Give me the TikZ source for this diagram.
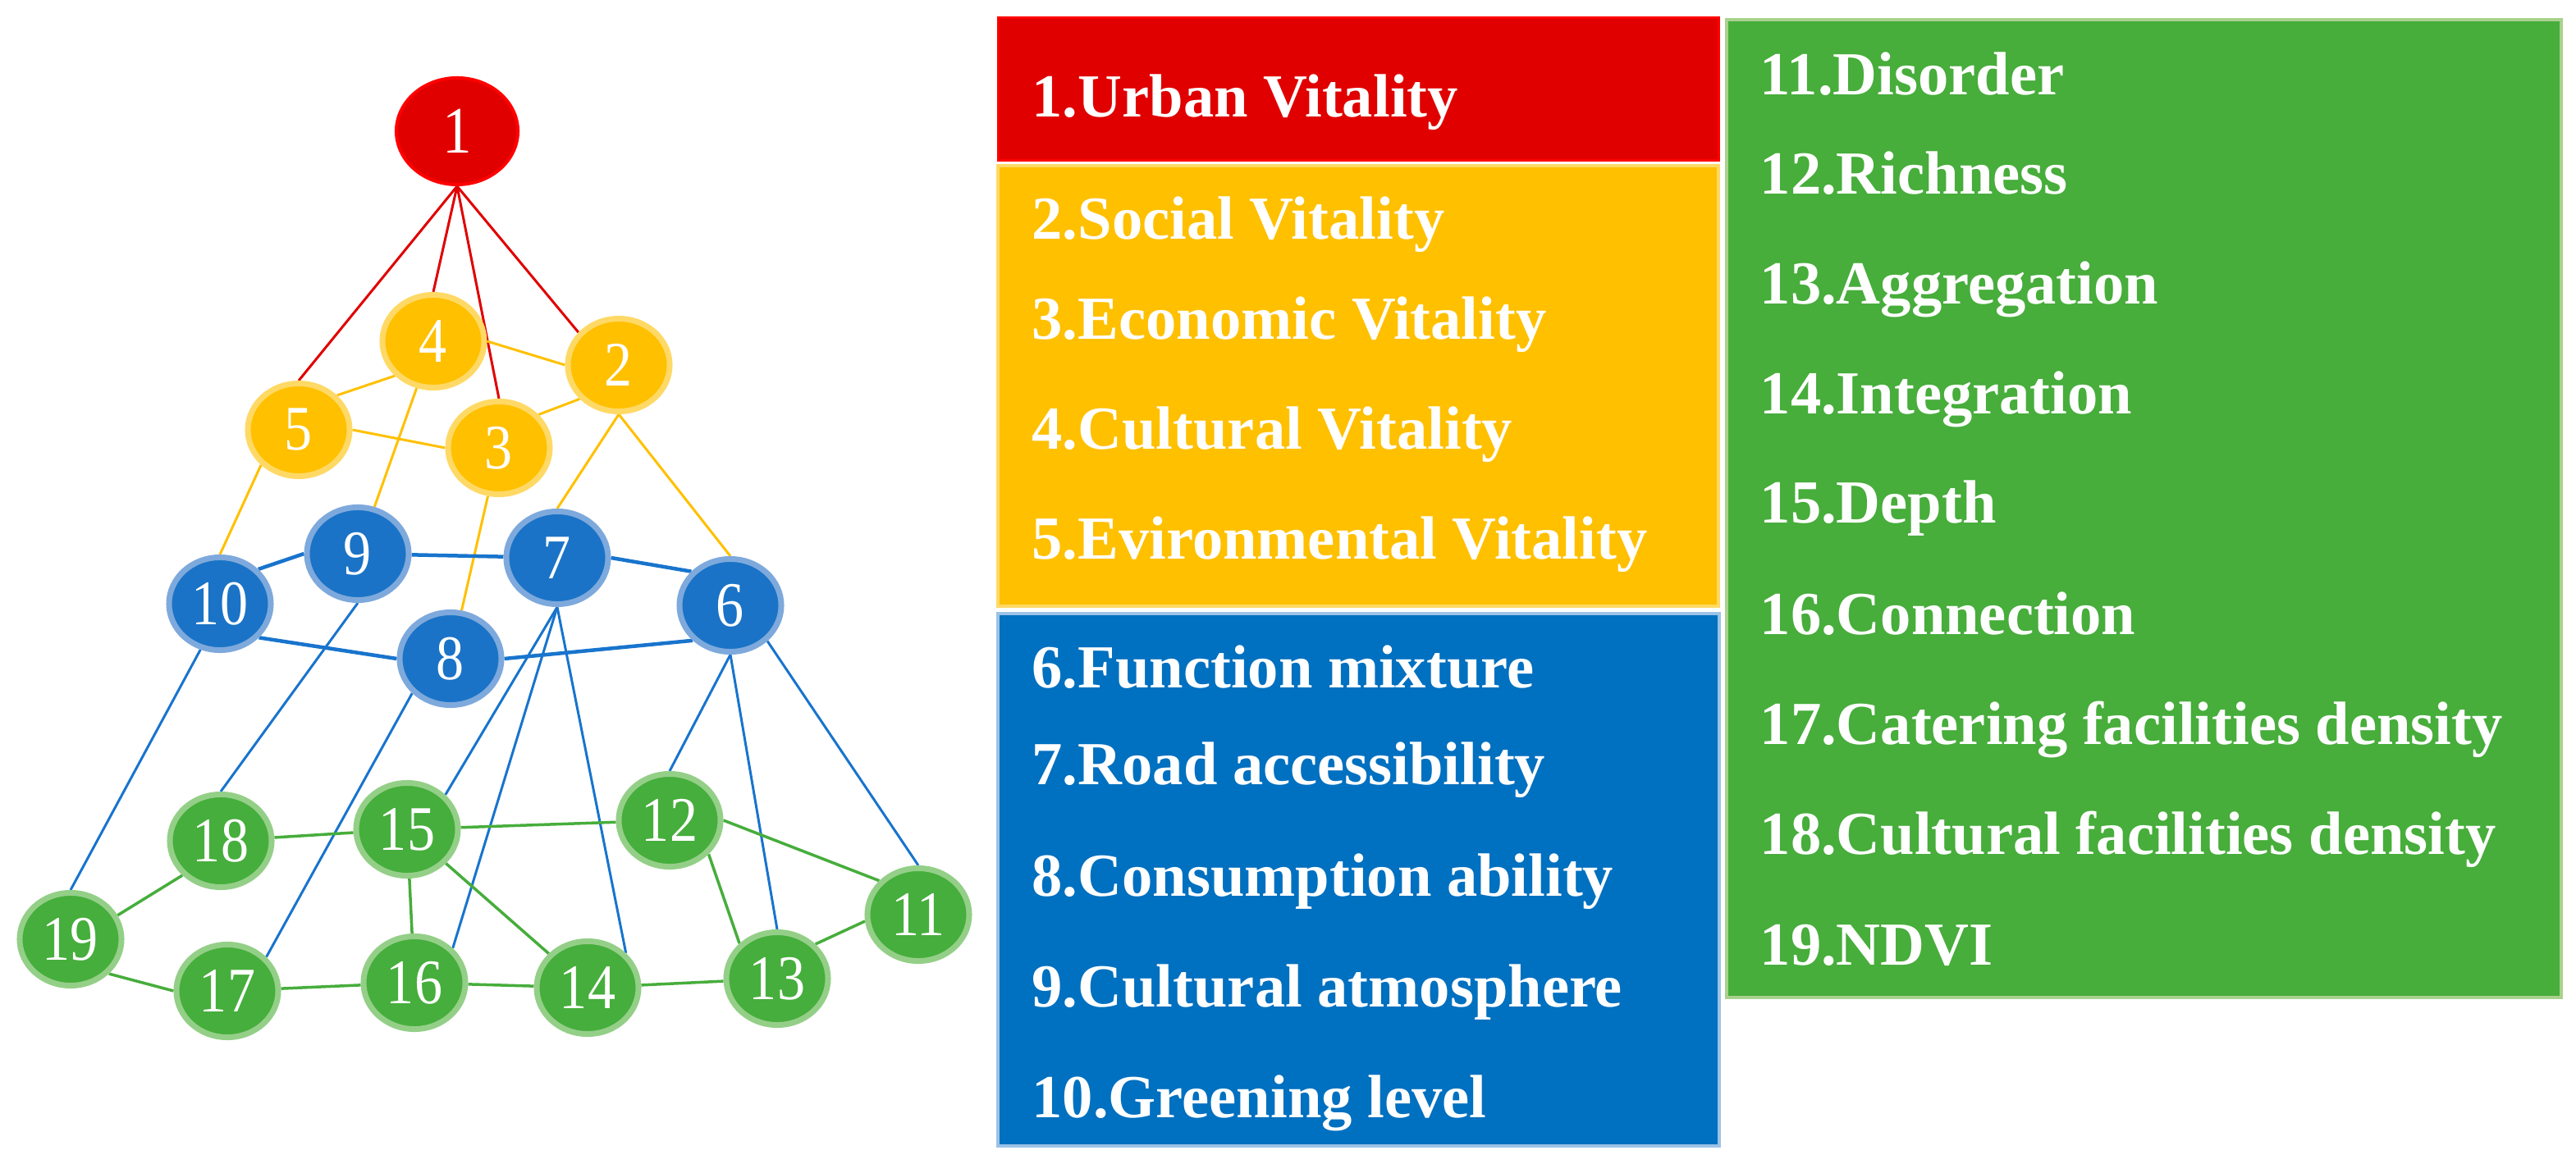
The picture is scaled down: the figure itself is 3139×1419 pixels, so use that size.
\documentclass[tikz,border=0pt]{standalone}
\usepackage{fontspec}
\usetikzlibrary{shapes.geometric,backgrounds}
\newfontfamily\numfont{Liberation Serif}
\newfontfamily\nodefont[FakeStretch=0.88]{Liberation Serif}
\newcommand\legfont{\numfont\bfseries\fontsize{21.2pt}{25pt}\selectfont}
\definecolor{cred}{HTML}{E00000}
\definecolor{credb}{HTML}{FF0000}
\definecolor{cyel}{HTML}{FFC000}
\definecolor{cyelb}{HTML}{FFD966}
\definecolor{cblu}{HTML}{1A73C6}
\definecolor{cblub}{HTML}{7EA9DC}
\definecolor{cbox}{HTML}{0070C0}
\definecolor{cboxb}{HTML}{9DC3E6}
\definecolor{cgrn}{HTML}{46AE3C}
\definecolor{cgrnb}{HTML}{94CF88}
\definecolor{cgrnbox}{HTML}{47AD3B}
\definecolor{cgrnboxb}{HTML}{A9D18E}
\definecolor{eblu}{HTML}{1874CD}
\definecolor{egrn}{HTML}{47AD3C}
\begin{document}
\begin{tikzpicture}[x=0.01cm,y=-0.01cm,
  vnode/.style={ellipse, minimum width=1.24cm, minimum height=1.13cm, line width=0.07cm,
    inner sep=0pt, text=white, font={\nodefont\fontsize{22pt}{22pt}\selectfont}},
  rnode/.style={vnode, fill=cred, draw=credb, line width=0.04cm, minimum width=1.48cm, minimum height=1.30cm,
    font={\nodefont\fontsize{23pt}{23pt}\selectfont}},
  ynode/.style={vnode, fill=cyel, draw=cyelb},
  bnode/.style={vnode, fill=cblu, draw=cblub},
  gnode/.style={vnode, fill=cgrn, draw=cgrnb},
  ered/.style={draw=cred, line width=0.03cm},
  eyel/.style={draw=cyel, line width=0.03cm},
  eblue/.style={draw=eblu, line width=0.03cm},
  eblueth/.style={draw=eblu, line width=0.045cm},
  egreen/.style={draw=egrn, line width=0.035cm},
  leg/.style={anchor=base west, text=white, inner sep=0pt, font=\legfont}]
\useasboundingbox (0,0) rectangle (3139,1419);

% nodes
\node[rnode] (n1) at (557,160) {1};
\node[ynode] (n2) at (754,445) {2};
\node[ynode] (n3) at (608,546) {3};
\node[ynode] (n4) at (528,416) {4};
\node[ynode] (n5) at (364,524) {5};
\node[bnode] (n6) at (890,738) {6};
\node[bnode] (n7) at (679,680) {7};
\node[bnode] (n8) at (549,803) {8};
\node[bnode] (n9) at (436,675) {9};
\node[bnode] (n10) at (268,736) {10};
\node[gnode] (n11) at (1119,1115) {11};
\node[gnode] (n12) at (816,1000) {12};
\node[gnode] (n13) at (947,1193) {13};
\node[gnode] (n14) at (716,1204) {14};
\node[gnode] (n15) at (496,1011) {15};
\node[gnode] (n16) at (505,1198) {16};
\node[gnode] (n17) at (277,1208) {17};
\node[gnode] (n18) at (269,1025) {18};
\node[gnode] (n19) at (86,1145) {19};

\begin{scope}[on background layer]
% red
\draw[ered] (n1.south) -- (n5.north);
\draw[ered] (n1.south) -- (n4.north);
\draw[ered] (n1.south) -- (n3.north);
\draw[ered] (n1.south) -- (n2.141);
% yellow
\draw[eyel] (n4.east) -- (n2.west);
\draw[eyel] (n4.222) -- (n5.42);
\draw[eyel] (n5.east) -- (n3.west);
\draw[eyel] (n3.40) -- (n2.221);
\draw[eyel] (n5.223) -- (n10.north);
\draw[eyel] (n4) -- (n9);
\draw[eyel] (n3) -- (n8);
\draw[eyel] (n2.south) -- (n7.north);
\draw[eyel] (n2.south) -- (n6.north);
% blue
\draw[eblueth] (n10.42) -- (n9.west);
\draw[eblueth] (n9) -- (n7);
\draw[eblueth] (n7.east) -- (n6.139);
\draw[eblueth] (n10.319) -- (n8.west);
\draw[eblueth] (n8.east) -- (n6.223);
\draw[eblue] (n10.247) -- (n19.north);
\draw[eblue] (n9.south) -- (n18.north);
\draw[eblue] (n8.222) -- (n17.41);
\draw[eblue] (n7.south) -- (n15.42);
\draw[eblue] (n7.south) -- (n16.42);
\draw[eblue] (n7.south) -- (n14.42);
\draw[eblue] (n6.south) -- (n12.north);
\draw[eblue] (n6.south) -- (n13.north);
\draw[eblue] (n6.316) -- (n11.north);
% green
\draw[egreen] (n18) -- (n15);
\draw[egreen] (n15) -- (n12);
\draw[egreen] (n18.222) -- (n19.27);
\draw[egreen] (n19.318) -- (n17.180);
\draw[egreen] (n17) -- (n16);
\draw[egreen] (n16) -- (n14);
\draw[egreen] (n14) -- (n13);
\draw[egreen] (n13.42) -- (n11.187);
\draw[egreen] (n12.east) -- (n11.139);
\draw[egreen] (n12.319) -- (n13.137);
\draw[egreen] (n15) -- (n16);
\draw[egreen] (n15) -- (n14);
\end{scope}

% legend boxes
\draw[fill=cred, draw=credb, line width=0.03cm] (1216,22) rectangle (2094,196);
\draw[fill=cyel, draw=cyelb, line width=0.04cm] (1216,202) rectangle (2094,739);
\draw[fill=cbox, draw=cboxb, line width=0.04cm] (1216,748) rectangle (2095,1397);
\draw[fill=cgrnbox, draw=cgrnboxb, line width=0.04cm] (2104,24) rectangle (3121,1216);

% legend texts
\node[leg] (l1) at (1257,143) {1.Urban Vitality};
\node[leg] (l2) at (1257,292) {2.Social Vitality};
\node[leg] (l3) at (1257,414) {3.Economic Vitality};
\node[leg] (l4) at (1257,548) {4.Cultural Vitality};
\node[leg] (l5) at (1257,682) {5.Evironmental Vitality};
\node[leg] (l6) at (1257,838) {6.Function mixture};
\node[leg] (l7) at (1257,956) {7.Road accessibility};
\node[leg] (l8) at (1257,1092) {8.Consumption ability};
\node[leg] (l9) at (1257,1227) {9.Cultural atmosphere};
\node[leg] (l10) at (1257,1362) {10.Greening level};
\node[leg] (l11) at (2144,116) {11.Disorder};
\node[leg] (l12) at (2144,237) {12.Richness};
\node[leg] (l13) at (2144,371) {13.Aggregation};
\node[leg] (l14) at (2144,505) {14.Integration};
\node[leg] (l15) at (2144,638) {15.Depth};
\node[leg] (l16) at (2144,774) {16.Connection};
\node[leg] (l17) at (2144,907) {17.Catering facilities density};
\node[leg] (l18) at (2144,1041) {18.Cultural facilities density};
\node[leg] (l19) at (2144,1176) {19.NDVI};
\end{tikzpicture}
\end{document}
